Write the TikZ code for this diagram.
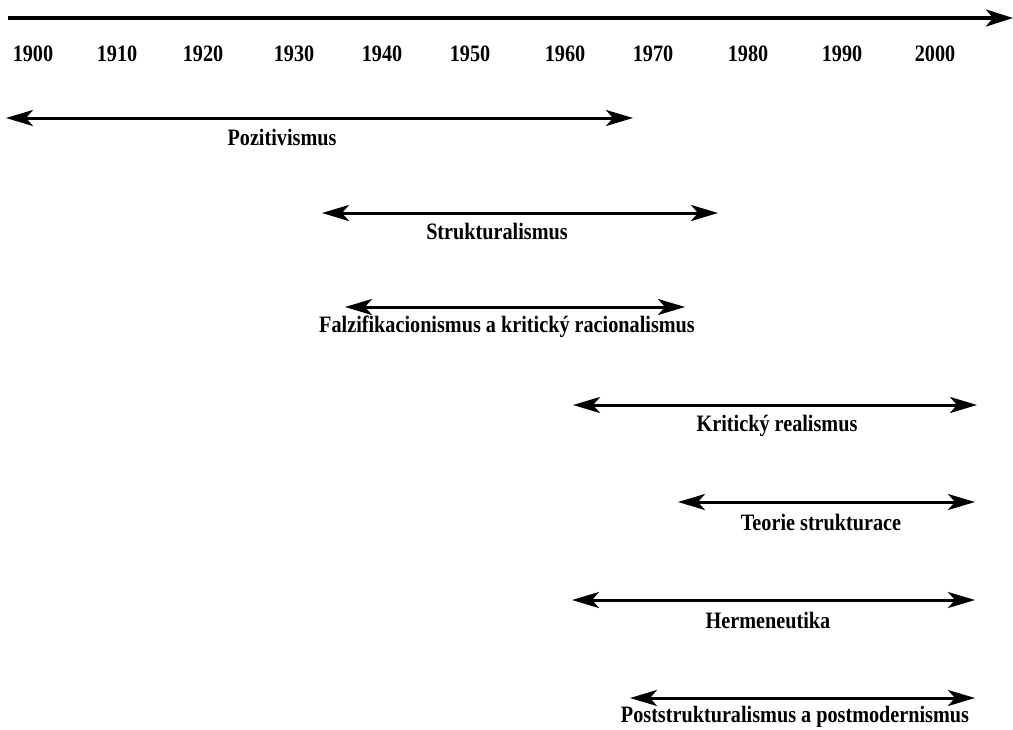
\documentclass[tikz,border=0pt]{standalone}
\usepackage{fontspec}
\setmainfont{Liberation Serif}[FakeStretch=0.86]
\usetikzlibrary{arrows.meta}
\tikzset{
  lbl/.style={anchor=base, inner sep=0pt, font=\fontsize{23.5}{28}\selectfont\bfseries},
  yr/.style={lbl},
  span/.style={line width=3pt, {Stealth[length=27pt,width=16pt,inset=7pt]}-{Stealth[length=27pt,width=16pt,inset=7pt]}},
  axis/.style={line width=3.6pt, -{Stealth[length=27pt,width=17pt,inset=7pt]}}
}
\begin{document}
\begin{tikzpicture}[x=1pt,y=-1pt]
\useasboundingbox (0,0) rectangle (1013,729);
% main time axis
\coordinate (a0) at (8,18);
\coordinate (a1) at (1013,18);
\draw[axis] (a0) -- (a1);
% years
\node[yr] (y1900) at (33,61) {1900};
\node[yr] (y1910) at (117,61) {1910};
\node[yr] (y1920) at (203,61) {1920};
\node[yr] (y1930) at (294,61) {1930};
\node[yr] (y1940) at (382,61) {1940};
\node[yr] (y1950) at (470,61) {1950};
\node[yr] (y1960) at (565,61) {1960};
\node[yr] (y1970) at (653,61) {1970};
\node[yr] (y1980) at (748,61) {1980};
\node[yr] (y1990) at (842,61) {1990};
\node[yr] (y2000) at (935,61) {2000};
% spans
\coordinate (p0) at (6,118);   \coordinate (p1) at (633,118);
\draw[span] (p0) -- (p1);
\node[lbl] (pos) at (282,145) {Pozitivismus};

\coordinate (s0) at (322,213); \coordinate (s1) at (718,213);
\draw[span] (s0) -- (s1);
\node[lbl] (str) at (497,239) {Strukturalismus};

\coordinate (f0) at (345,307); \coordinate (f1) at (685,307);
\draw[span] (f0) -- (f1);
\node[lbl] (fal) at (507,332) {Falzifikacionismus a kritický racionalismus};

\coordinate (k0) at (573,405); \coordinate (k1) at (977,405);
\draw[span] (k0) -- (k1);
\node[lbl] (kri) at (777,431) {Kritický realismus};

\coordinate (t0) at (678,502); \coordinate (t1) at (975,502);
\draw[span] (t0) -- (t1);
\node[lbl] (teo) at (821,530) {Teorie strukturace};

\coordinate (h0) at (572,600); \coordinate (h1) at (975,600);
\draw[span] (h0) -- (h1);
\node[lbl] (her) at (768,628) {Hermeneutika};

\coordinate (q0) at (630,698); \coordinate (q1) at (975,698);
\draw[span] (q0) -- (q1);
\node[lbl] (pst) at (795,722) {Poststrukturalismus a postmodernismus};
\end{tikzpicture}
\end{document}
